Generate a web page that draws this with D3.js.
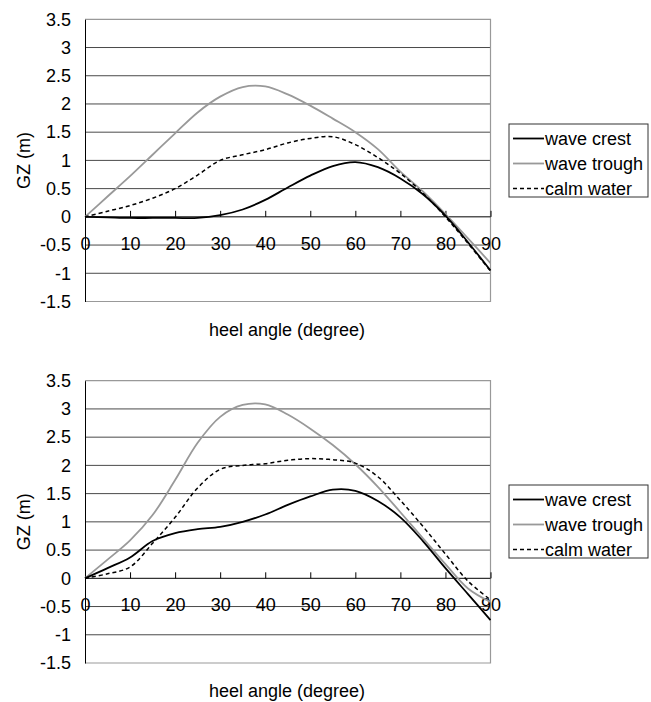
<!DOCTYPE html>
<html><head><meta charset="utf-8">
<script src="https://cdn.jsdelivr.net/npm/d3@7"></script>
<style>body{margin:0;background:#fff}svg{display:block}text{font-family:"Liberation Sans",Arial,sans-serif;fill:#000}</style>
</head><body>
<svg id="c" width="651" height="702"></svg>
<script>
const angles = [0,5,10,15,20,25,30,35,40,45,50,55,60,65,70,75,80,85,90];
const yTicks = [-1.5,-1,-0.5,0,0.5,1,1.5,2,2.5,3,3.5];
const xTicks = [0,10,20,30,40,50,60,70,80,90];
const seriesNames = ["wave crest","wave trough","calm water"];

// Top chart
const topCrest  = [0,-0.01,-0.02,-0.02,-0.02,-0.02,0.03,0.13,0.3,0.52,0.73,0.9,0.97,0.88,0.68,0.4,0.02,-0.45,-0.95];
const topTrough = [0,0.36,0.72,1.1,1.48,1.85,2.13,2.3,2.31,2.17,1.97,1.74,1.5,1.2,0.8,0.45,0.05,-0.38,-0.82];
const topCalm   = [0,0.1,0.2,0.33,0.5,0.74,1.0,1.1,1.19,1.31,1.39,1.42,1.28,1.05,0.77,0.42,0.0,-0.47,-0.96];

// Bottom chart
const botCrest  = [0,0.18,0.37,0.66,0.8,0.87,0.91,1.0,1.13,1.3,1.45,1.57,1.55,1.37,1.08,0.66,0.18,-0.28,-0.74];
const botTrough = [0,0.33,0.67,1.12,1.74,2.4,2.86,3.07,3.08,2.9,2.65,2.36,2.02,1.62,1.17,0.71,0.25,-0.18,-0.42];
const botCalm   = [0,0.08,0.2,0.62,1.08,1.6,1.93,2.0,2.03,2.09,2.12,2.1,2.04,1.8,1.38,0.92,0.43,-0.05,-0.38];

const svg = d3.select("#c");
const styles = [
  {stroke:"#000", width:1.8, dash:null},
  {stroke:"#999", width:1.8, dash:null},
  {stroke:"#000", width:1.5, dash:"4,3"}
];

function drawChart(top, bottom, data, legendTop){
  const x = d3.scaleLinear().domain([0,90]).range([85,490.5]);
  const y = d3.scaleLinear().domain([-1.5,3.5]).range([bottom, top]);
  const g = svg.append("g");
  g.selectAll(".grid").data(yTicks.filter(v=>v!==0 && v!==3.5 && v!==-1.5)).enter().append("line")
    .attr("x1",x(0)).attr("x2",x(90)).attr("y1",d=>y(d)).attr("y2",d=>y(d))
    .attr("stroke","#4a4a4a").attr("stroke-width",1);
  g.append("path").attr("d",`M${x(0)},${y(3.5)}H${x(90)}V${y(-1.5)}H${x(0)}`)
    .attr("fill","none").attr("stroke","#999").attr("stroke-width",1.2);
  const ya = d3.axisLeft(y).tickValues(yTicks).tickSize(0).tickPadding(14).tickFormat(d=>String(d));
  const yg = g.append("g").attr("transform",`translate(${x(0)},0)`).call(ya);
  yg.select(".domain").attr("stroke","#000");
  yg.selectAll("text").attr("font-size",18).attr("font-family","Liberation Sans, Arial, sans-serif");
  const xa = d3.axisTop(x).tickValues(xTicks).tickSize(6).tickFormat(d=>String(d));
  const xg = g.append("g").attr("transform",`translate(0,${y(0)})`).call(xa);
  xg.select(".domain").attr("stroke","#000").attr("d",`M${x(0)},0H${x(90)}`);
  xg.selectAll(".tick line").attr("stroke","#000");
  xg.selectAll("text").attr("font-size",18).attr("font-family","Liberation Sans, Arial, sans-serif")
    .attr("y",33).attr("dy",0);
  g.append("text").attr("x",287).attr("y",bottom+34).attr("text-anchor","middle").attr("font-size",18).text("heel angle (degree)");
  g.append("text").attr("transform",`translate(30,${(top+bottom)/2}) rotate(-90)`).attr("text-anchor","middle").attr("font-size",18).text("GZ (m)");
  const line = d3.line().x((d,i)=>x(angles[i])).y(d=>y(d)).curve(d3.curveCatmullRom.alpha(0.5));
  [1,2,0].forEach(k=>{
    g.append("path").attr("d",line(data[k])).attr("fill","none")
      .attr("stroke",styles[k].stroke).attr("stroke-width",styles[k].width)
      .attr("stroke-dasharray",styles[k].dash);
  });
  const lg = g.append("g").attr("transform",`translate(509,${legendTop})`);
  lg.append("rect").attr("x",0).attr("y",0).attr("width",139).attr("height",73).attr("fill","#fff").attr("stroke","#333").attr("stroke-width",1);
  seriesNames.forEach((n,k)=>{
    const cy = 14.5 + k*25;
    lg.append("line").attr("x1",4).attr("x2",35).attr("y1",cy).attr("y2",cy)
      .attr("stroke",styles[k].stroke).attr("stroke-width",styles[k].width).attr("stroke-dasharray",styles[k].dash);
    lg.append("text").attr("x",36).attr("y",cy+6.5).attr("font-size",18).text(n);
  });
}
drawChart(19.3, 301.5, [topCrest, topTrough, topCalm], 124);
drawChart(380.7, 663, [botCrest, botTrough, botCalm], 485);
</script>
</body></html>
